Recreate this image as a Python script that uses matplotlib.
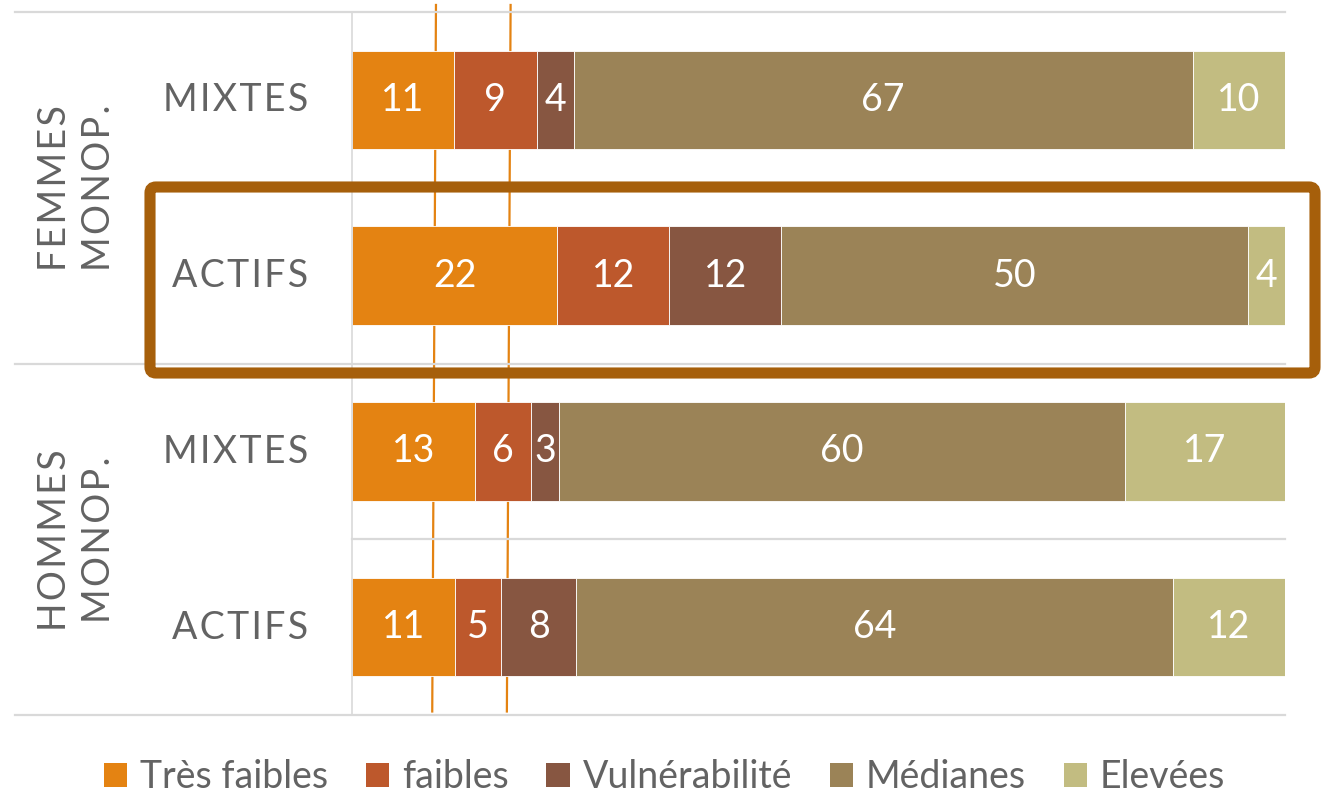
import matplotlib
matplotlib.use('Agg')
import matplotlib.pyplot as plt
from matplotlib.patches import FancyBboxPatch, Patch
from matplotlib.lines import Line2D
import matplotlib.transforms as mtransforms
import numpy as np

plt.rcParams['font.family'] = ['Lato', 'DejaVu Sans']

# ---- data ----
groups = ['FEMMES\nMONOP.', 'HOMMES\nMONOP.']
rows = ['MIXTES', 'ACTIFS', 'MIXTES', 'ACTIFS']
series = ['Très faibles', 'faibles', 'Vulnérabilité', 'Médianes', 'Elevées']
tres_faibles = [11, 22, 13, 11]
faibles = [9, 12, 6, 5]
vulnerabilite = [4, 12, 3, 8]
medianes = [67, 50, 60, 64]
elevees = [10, 4, 17, 12]
# reference lines (share of bar, top / bottom end)
ref_top = [0.090, 0.170]
ref_bottom = [0.086, 0.166]

colors = ['#E48312', '#BD582C', '#875641', '#9B8357', '#C2BC81']
grey = '#636363'
gridc = '#D9D9D9'

W, H = 1329, 795
fig = plt.figure(figsize=(W / 100, H / 100), dpi=100)


def fx(px):
    return px / W


def fy(py):
    return 1 - py / H


def spaced(s):
    return '\n'.join('\u200a'.join(line) for line in s.split('\n'))


ax = fig.add_axes([fx(352), fy(715), fx(1285) - fx(352), fy(12) - fy(715)])
data = np.array([tres_faibles, faibles, vulnerabilite, medianes, elevees], float)
share = data / data.sum(axis=0)
y = np.arange(len(rows))
left = np.zeros(len(rows))
fs = 27
for i, name in enumerate(series):
    ax.barh(y, share[i], left=left, height=0.56, color=colors[i],
            edgecolor='white', linewidth=0.6, label=name, zorder=3)
    for j in range(len(rows)):
        ax.text(left[j] + share[i][j] / 2, y[j], f"{int(data[i][j])}",
                ha='center', va='center', color='white', fontsize=fs, zorder=4)
    left += share[i]

ax.set_xlim(0, 1)
ax.set_ylim(len(rows) - 0.5, -0.5)
ax.axis('off')

# reference lines
blend = mtransforms.blended_transform_factory(ax.transData, ax.transAxes)
for t, b in zip(ref_top, ref_bottom):
    ax.plot([t, b], [1.01, 0.005], transform=blend, color='#E48312', lw=1.6,
            clip_on=False, zorder=2)

# separators / axis
for py, x0 in [(12, 15), (363.5, 15), (539, 352), (715, 15)]:
    fig.add_artist(Line2D([fx(x0), fx(1285)], [fy(py), fy(py)], color=gridc, lw=1.6,
                          transform=fig.transFigure, zorder=1))
fig.add_artist(Line2D([fx(352), fx(352)], [fy(12), fy(715)], color=gridc, lw=1.2,
                      transform=fig.transFigure, zorder=1))

# category labels
row_centers = [100, 276, 452, 628]
for lab, py in zip(rows, row_centers):
    fig.text(fx(308), fy(py), spaced(lab), ha='right', va='center', color=grey,
             fontsize=fs)
group_centers = [188, 540]
for lab, py in zip(groups, group_centers):
    fig.text(fx(77), fy(py), spaced(lab), ha='center', va='center', rotation=90,
             color=grey, fontsize=fs, multialignment='center', linespacing=1.25)

# highlight rectangle
rect = FancyBboxPatch((1.50, (H - 373) / 100), 11.65, 1.86,
                      boxstyle='round,pad=0,rounding_size=0.06',
                      transform=fig.dpi_scale_trans, fill=False,
                      edgecolor='#A65F0B', lw=8.0, zorder=10)
fig.add_artist(rect)

# legend
handles = [Patch(facecolor=c, edgecolor='none') for c in colors]
fig.legend(handles, series, loc='center', bbox_to_anchor=(0.5, fy(777)), ncol=5,
           frameon=False, fontsize=fs, handlelength=0.62, handleheight=0.62,
           handletextpad=0.35, columnspacing=1.0, labelcolor=grey)

fig.savefig('out.png', dpi=100)
